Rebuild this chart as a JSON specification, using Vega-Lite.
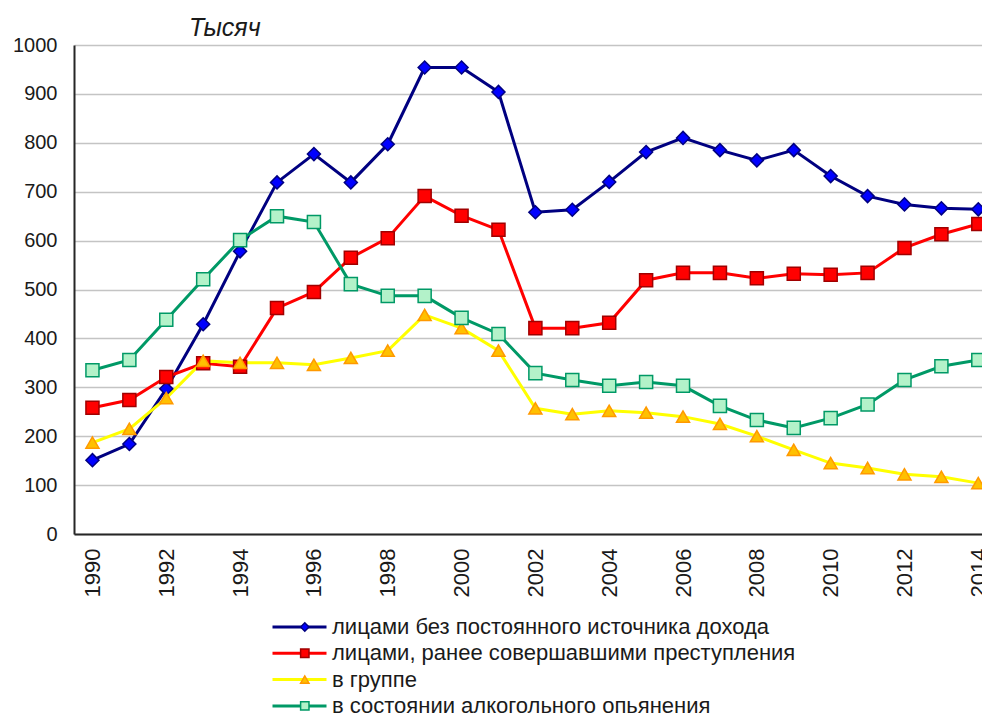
{
  "$schema": "https://vega.github.io/schema/vega-lite/v6.json",
  "width": 908,
  "height": 489,
  "autosize": {"type": "none"},
  "padding": {"left": 74, "top": 45, "right": 0, "bottom": 179},
  "background": "white",
  "config": {"view": {"stroke": null}},
  "title": {"text": "Тысяч", "anchor": "start", "frame": "group", "dx": 115, "offset": -26, "font": "Liberation Sans", "fontSize": 25, "fontStyle": "italic", "fontWeight": "normal", "color": "#1a1a1a", "baseline": "alphabetic"},
  "data": {"values": [
    {"year": 1990, "series": "лицами без постоянного источника дохода", "value": 151},
    {"year": 1991, "series": "лицами без постоянного источника дохода", "value": 184},
    {"year": 1992, "series": "лицами без постоянного источника дохода", "value": 297},
    {"year": 1993, "series": "лицами без постоянного источника дохода", "value": 429},
    {"year": 1994, "series": "лицами без постоянного источника дохода", "value": 578},
    {"year": 1995, "series": "лицами без постоянного источника дохода", "value": 719},
    {"year": 1996, "series": "лицами без постоянного источника дохода", "value": 777},
    {"year": 1997, "series": "лицами без постоянного источника дохода", "value": 719},
    {"year": 1998, "series": "лицами без постоянного источника дохода", "value": 797},
    {"year": 1999, "series": "лицами без постоянного источника дохода", "value": 954},
    {"year": 2000, "series": "лицами без постоянного источника дохода", "value": 954},
    {"year": 2001, "series": "лицами без постоянного источника дохода", "value": 904},
    {"year": 2002, "series": "лицами без постоянного источника дохода", "value": 658},
    {"year": 2003, "series": "лицами без постоянного источника дохода", "value": 663},
    {"year": 2004, "series": "лицами без постоянного источника дохода", "value": 720},
    {"year": 2005, "series": "лицами без постоянного источника дохода", "value": 781},
    {"year": 2006, "series": "лицами без постоянного источника дохода", "value": 810},
    {"year": 2007, "series": "лицами без постоянного источника дохода", "value": 785},
    {"year": 2008, "series": "лицами без постоянного источника дохода", "value": 764},
    {"year": 2009, "series": "лицами без постоянного источника дохода", "value": 785},
    {"year": 2010, "series": "лицами без постоянного источника дохода", "value": 732},
    {"year": 2011, "series": "лицами без постоянного источника дохода", "value": 691},
    {"year": 2012, "series": "лицами без постоянного источника дохода", "value": 674},
    {"year": 2013, "series": "лицами без постоянного источника дохода", "value": 666},
    {"year": 2014, "series": "лицами без постоянного источника дохода", "value": 664},
    {"year": 1990, "series": "лицами, ранее совершавшими преступления", "value": 258},
    {"year": 1991, "series": "лицами, ранее совершавшими преступления", "value": 274},
    {"year": 1992, "series": "лицами, ранее совершавшими преступления", "value": 321},
    {"year": 1993, "series": "лицами, ранее совершавшими преступления", "value": 349},
    {"year": 1994, "series": "лицами, ранее совершавшими преступления", "value": 342},
    {"year": 1995, "series": "лицами, ранее совершавшими преступления", "value": 462},
    {"year": 1996, "series": "лицами, ранее совершавшими преступления", "value": 495},
    {"year": 1997, "series": "лицами, ранее совершавшими преступления", "value": 565},
    {"year": 1998, "series": "лицами, ранее совершавшими преступления", "value": 605},
    {"year": 1999, "series": "лицами, ранее совершавшими преступления", "value": 691},
    {"year": 2000, "series": "лицами, ранее совершавшими преступления", "value": 651},
    {"year": 2001, "series": "лицами, ранее совершавшими преступления", "value": 622},
    {"year": 2002, "series": "лицами, ранее совершавшими преступления", "value": 421},
    {"year": 2003, "series": "лицами, ранее совершавшими преступления", "value": 421},
    {"year": 2004, "series": "лицами, ранее совершавшими преступления", "value": 432},
    {"year": 2005, "series": "лицами, ранее совершавшими преступления", "value": 519},
    {"year": 2006, "series": "лицами, ранее совершавшими преступления", "value": 534},
    {"year": 2007, "series": "лицами, ранее совершавшими преступления", "value": 534},
    {"year": 2008, "series": "лицами, ранее совершавшими преступления", "value": 523},
    {"year": 2009, "series": "лицами, ранее совершавшими преступления", "value": 532},
    {"year": 2010, "series": "лицами, ранее совершавшими преступления", "value": 530},
    {"year": 2011, "series": "лицами, ранее совершавшими преступления", "value": 534},
    {"year": 2012, "series": "лицами, ранее совершавшими преступления", "value": 585},
    {"year": 2013, "series": "лицами, ранее совершавшими преступления", "value": 613},
    {"year": 2014, "series": "лицами, ранее совершавшими преступления", "value": 634},
    {"year": 1990, "series": "в группе", "value": 187},
    {"year": 1991, "series": "в группе", "value": 215},
    {"year": 1992, "series": "в группе", "value": 278},
    {"year": 1993, "series": "в группе", "value": 354},
    {"year": 1994, "series": "в группе", "value": 350},
    {"year": 1995, "series": "в группе", "value": 350},
    {"year": 1996, "series": "в группе", "value": 346},
    {"year": 1997, "series": "в группе", "value": 360},
    {"year": 1998, "series": "в группе", "value": 375},
    {"year": 1999, "series": "в группе", "value": 448},
    {"year": 2000, "series": "в группе", "value": 421},
    {"year": 2001, "series": "в группе", "value": 375},
    {"year": 2002, "series": "в группе", "value": 257},
    {"year": 2003, "series": "в группе", "value": 245},
    {"year": 2004, "series": "в группе", "value": 252},
    {"year": 2005, "series": "в группе", "value": 248},
    {"year": 2006, "series": "в группе", "value": 240},
    {"year": 2007, "series": "в группе", "value": 225},
    {"year": 2008, "series": "в группе", "value": 200},
    {"year": 2009, "series": "в группе", "value": 172},
    {"year": 2010, "series": "в группе", "value": 145},
    {"year": 2011, "series": "в группе", "value": 135},
    {"year": 2012, "series": "в группе", "value": 122},
    {"year": 2013, "series": "в группе", "value": 117},
    {"year": 2014, "series": "в группе", "value": 104},
    {"year": 1990, "series": "в состоянии алкогольного опьянения", "value": 335},
    {"year": 1991, "series": "в состоянии алкогольного опьянения", "value": 356},
    {"year": 1992, "series": "в состоянии алкогольного опьянения", "value": 438},
    {"year": 1993, "series": "в состоянии алкогольного опьянения", "value": 521},
    {"year": 1994, "series": "в состоянии алкогольного опьянения", "value": 601},
    {"year": 1995, "series": "в состоянии алкогольного опьянения", "value": 650},
    {"year": 1996, "series": "в состоянии алкогольного опьянения", "value": 638},
    {"year": 1997, "series": "в состоянии алкогольного опьянения", "value": 511},
    {"year": 1998, "series": "в состоянии алкогольного опьянения", "value": 487},
    {"year": 1999, "series": "в состоянии алкогольного опьянения", "value": 487},
    {"year": 2000, "series": "в состоянии алкогольного опьянения", "value": 442},
    {"year": 2001, "series": "в состоянии алкогольного опьянения", "value": 409},
    {"year": 2002, "series": "в состоянии алкогольного опьянения", "value": 329},
    {"year": 2003, "series": "в состоянии алкогольного опьянения", "value": 315},
    {"year": 2004, "series": "в состоянии алкогольного опьянения", "value": 303},
    {"year": 2005, "series": "в состоянии алкогольного опьянения", "value": 311},
    {"year": 2006, "series": "в состоянии алкогольного опьянения", "value": 303},
    {"year": 2007, "series": "в состоянии алкогольного опьянения", "value": 262},
    {"year": 2008, "series": "в состоянии алкогольного опьянения", "value": 233},
    {"year": 2009, "series": "в состоянии алкогольного опьянения", "value": 217},
    {"year": 2010, "series": "в состоянии алкогольного опьянения", "value": 237},
    {"year": 2011, "series": "в состоянии алкогольного опьянения", "value": 265},
    {"year": 2012, "series": "в состоянии алкогольного опьянения", "value": 315},
    {"year": 2013, "series": "в состоянии алкогольного опьянения", "value": 343},
    {"year": 2014, "series": "в состоянии алкогольного опьянения", "value": 356}
  ]},
  "layer": [
    {
      "mark": {"type": "line", "strokeWidth": 3},
      "encoding": {
        "x": {"field": "year", "type": "quantitative",
          "scale": {"domain": [1989.5, 2014.1], "nice": false, "zero": false},
          "axis": {"title": null, "values": [1990, 1992, 1994, 1996, 1998, 2000, 2002, 2004, 2006, 2008, 2010, 2012, 2014], "format": "d", "labelAngle": -90, "labelFontSize": 22, "labelFont": "Liberation Sans", "labelColor": "#1a1a1a", "ticks": false, "labelPadding": 14, "domainColor": "#262626", "domainWidth": 2, "grid": false, "labelFlush": false, "labelOverlap": false, "labelBound": false}},
        "y": {"field": "value", "type": "quantitative",
          "scale": {"domain": [0, 1000], "nice": false},
          "axis": {"title": null, "values": [0, 100, 200, 300, 400, 500, 600, 700, 800, 900, 1000], "format": "d", "labelFontSize": 20, "labelFont": "Liberation Sans", "labelColor": "#1a1a1a", "ticks": false, "labelPadding": 17, "domainColor": "#262626", "domainWidth": 2, "grid": true, "gridColor": "#c4c4c4", "gridWidth": 1.5}},
        "color": {"field": "series", "type": "nominal",
          "scale": {"domain": ["лицами без постоянного источника дохода", "лицами, ранее совершавшими преступления", "в группе", "в состоянии алкогольного опьянения"], "range": ["#000080", "#ff0000", "#ffff00", "#009966"]},
          "legend": {"title": null, "orient": "none", "legendX": 197, "legendY": 571, "padding": 0, "symbolType": "stroke", "symbolSize": 2916, "symbolStrokeWidth": 3, "clipHeight": 22, "rowPadding": 4.3, "labelFontSize": 22, "labelFont": "Liberation Sans", "labelColor": "#1a1a1a", "labelOffset": 4, "labelLimit": 700}}
      }
    },
    {
      "mark": {"type": "point", "filled": true, "size": 170, "strokeWidth": 1.5, "opacity": 1},
      "encoding": {
        "x": {"field": "year", "type": "quantitative"},
        "y": {"field": "value", "type": "quantitative"},
        "shape": {"field": "series", "type": "nominal",
          "scale": {"domain": ["в состоянии алкогольного опьянения", "в группе", "лицами, ранее совершавшими преступления", "лицами без постоянного источника дохода"], "range": ["square", "triangle-up", "square", "diamond"]},
          "legend": {"title": null, "orient": "none", "legendX": 197, "legendY": 571, "padding": 0, "values": ["лицами без постоянного источника дохода", "лицами, ранее совершавшими преступления", "в группе", "в состоянии алкогольного опьянения"], "symbolSize": 70, "symbolOffset": 22.8, "symbolStrokeWidth": 1.5, "clipHeight": 22, "rowPadding": 4.3, "labelFontSize": 22, "labelExpr": "''", "labelOffset": 4, "labelLimit": 700}},
        "fill": {"field": "series", "type": "nominal",
          "scale": {"domain": ["в состоянии алкогольного опьянения", "в группе", "лицами, ранее совершавшими преступления", "лицами без постоянного источника дохода"], "range": ["#b3f2c9", "#ffc000", "#ff0000", "#0000ff"]},
          "legend": {"title": null, "orient": "none", "legendX": 197, "legendY": 571, "padding": 0, "values": ["лицами без постоянного источника дохода", "лицами, ранее совершавшими преступления", "в группе", "в состоянии алкогольного опьянения"], "symbolSize": 70, "symbolOffset": 22.8, "symbolStrokeWidth": 1.5, "clipHeight": 22, "rowPadding": 4.3, "labelFontSize": 22, "labelExpr": "''", "labelOffset": 4, "labelLimit": 700}},
        "stroke": {"field": "series", "type": "nominal",
          "scale": {"domain": ["в состоянии алкогольного опьянения", "в группе", "лицами, ранее совершавшими преступления", "лицами без постоянного источника дохода"], "range": ["#009966", "#ff9900", "#a00000", "#000080"]},
          "legend": {"title": null, "orient": "none", "legendX": 197, "legendY": 571, "padding": 0, "values": ["лицами без постоянного источника дохода", "лицами, ранее совершавшими преступления", "в группе", "в состоянии алкогольного опьянения"], "symbolSize": 70, "symbolOffset": 22.8, "symbolStrokeWidth": 1.5, "clipHeight": 22, "rowPadding": 4.3, "labelFontSize": 22, "labelExpr": "''", "labelOffset": 4, "labelLimit": 700}}
      }
    }
  ]
}
